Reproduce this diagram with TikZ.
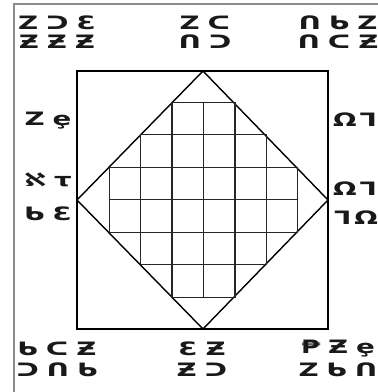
\documentclass[tikz,border=0pt]{standalone}
\usepackage{fontspec}
\usepackage{tikz}
\usetikzlibrary{positioning}
\newfontfamily\glyphfont{DejaVu Sans}[FakeStretch=1.5, BoldFeatures={FakeStretch=1.5}]
\newcommand{\gapx}{\hspace{4.5pt}}

\begin{document}
\begin{tikzpicture}[
  x=0.02cm, y=-0.02cm,
  glyph/.style={font=\glyphfont\bfseries\fontsize{10.5}{12}\selectfont,
    inner sep=0pt, text=black!90},
  frame/.style={draw=black!45, line width=1.3pt},
  edge/.style={draw=black, line width=0.8pt},
  cell/.style={draw=black!85, line width=0.7pt}
]
\useasboundingbox (0,0) rectangle (378,392);

% outer frame, cut by the page edge
\begin{scope}
  \clip (0,0) rectangle (378,392);
  \draw[frame] (14,4) rectangle (400,412);
\end{scope}

% square and diamond
\coordinate (sqnw) at (77,71);
\coordinate (sqse) at (328,329);
\coordinate (dtop) at (203,71);
\coordinate (dright) at (328,200);
\coordinate (dbot) at (203,329);
\coordinate (dleft) at (77,200);
\draw[edge] (sqnw) rectangle (sqse);
\draw[edge] (dtop) -- (dright) -- (dbot) -- (dleft) -- cycle;

% cells inside the diamond
\foreach \r/\a/\b in {0/2/3, 1/1/4, 2/0/5, 3/0/5, 4/1/4, 5/2/3}
  \foreach \c in {\a,...,\b}
    \draw[cell] (109.3+\c*31.4, 102.3+\r*32.5) rectangle ++(31.4,32.5);

% corner and side labels
\node[glyph] (nwa) at (57,23) {Z\gapx ᑐ\gapx Ɛ};
\node[glyph] (nwb) at (57,42) {Ƶ\gapx Ƶ\gapx Ƶ};
\node[glyph] (na) at (205,23) {Z\gapx ᑕ};
\node[glyph] (nb) at (205,42) {ᑎ\gapx ᑐ};
\node[glyph] (nea) at (338,23) {ᑎ\gapx ᑲ\gapx Z};
\node[glyph] (neb) at (338,42) {ᑎ\gapx ᑕ\gapx Ƶ};

\node[glyph] (wa) at (48,121) {Z\gapx ȩ};
\node[glyph] (wb) at (48,180) {ℵ\gapx τ};
\node[glyph] (wc) at (48,214) {ᑲ\gapx Ɛ};
\node[glyph] (ea) at (355,120) {Ω\,ᒣ};
\node[glyph] (eb) at (355,189) {Ω\,ᒣ};
\node[glyph] (ec) at (356,218) {ᒣ\,Ω};

\node[glyph] (swa) at (57,349) {ᑲ\gapx ᑕ\gapx Ƶ};
\node[glyph] (swb) at (57,370) {ᑐ\gapx ᑎ\gapx ᑲ};
\node[glyph] (sa) at (202,349) {Ɛ\gapx Ƶ};
\node[glyph] (sb) at (202,370) {Ƶ\gapx ᑐ};
\node[glyph] (sea) at (338,349) {₱\gapx Ƶ\gapx ȩ};
\node[glyph] (seb) at (338,370) {Z\gapx ᑲ\gapx ᑎ};

\end{tikzpicture}
\end{document}
